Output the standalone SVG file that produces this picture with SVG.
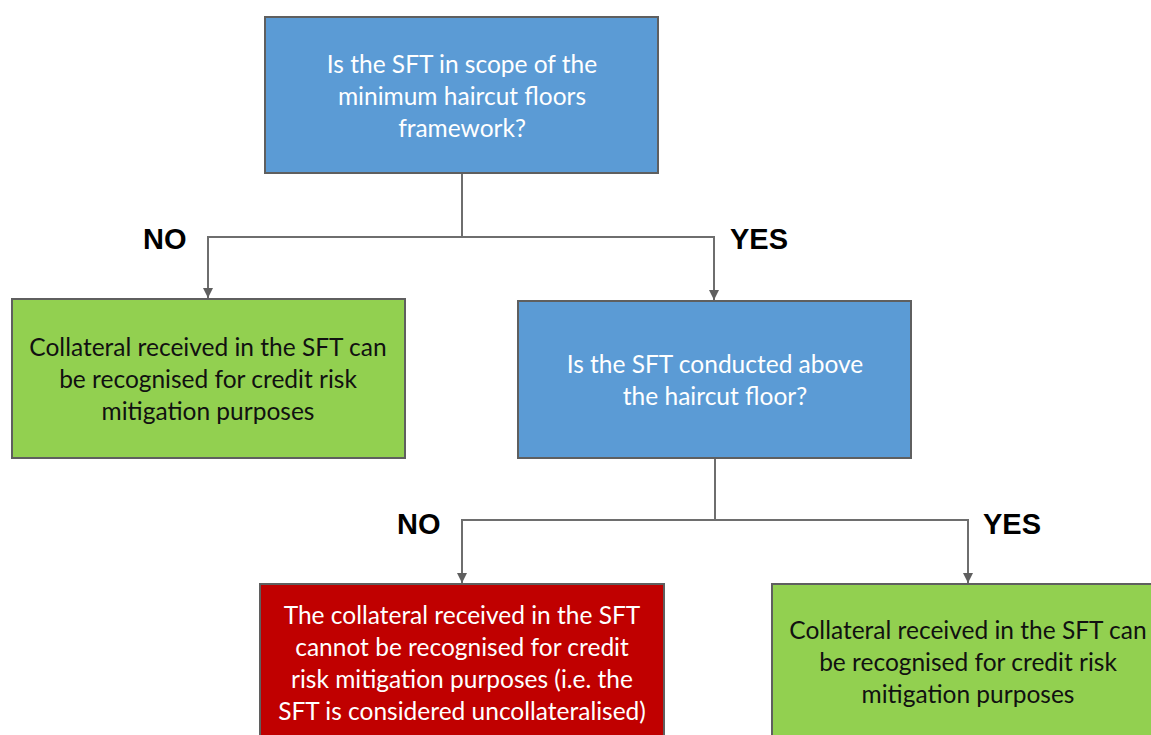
<svg xmlns="http://www.w3.org/2000/svg" width="1151" height="735" viewBox="0 0 1151 735">
<defs>
<style>
.box{stroke:#5f5f5f;stroke-width:2}
.blue{fill:#5b9bd5}
.green{fill:#92d050}
.red{fill:#c00000}
.t{font-family:Lato,"Liberation Sans",sans-serif;font-size:24.5px;text-anchor:middle}
.w{fill:#ffffff}
.k{fill:#111111}
.lbl{font-family:"Liberation Sans",Arial,sans-serif;font-weight:bold;font-size:29px;fill:#000000}
.c{fill:none;stroke:#6e6e6e;stroke-width:2}
</style>
<marker id="arr" viewBox="0 0 10 10" refX="10" refY="5" markerWidth="10" markerHeight="10" markerUnits="userSpaceOnUse" orient="auto">
<path d="M0,0 L10,5 L0,10 z" fill="#5f5f5f"/>
</marker>
</defs>
<rect width="1151" height="735" fill="#ffffff"/>
<g id="connectors">
<path class="c" d="M462,173 V237"/>
<path class="c" d="M462,237 H208 V298" marker-end="url(#arr)"/>
<path class="c" d="M462,237 H714 V300" marker-end="url(#arr)"/>
<path class="c" d="M715,458 V520"/>
<path class="c" d="M715,520 H462 V583" marker-end="url(#arr)"/>
<path class="c" d="M715,520 H968 V583" marker-end="url(#arr)"/>
</g>
<g id="q1">
<rect class="box blue" x="265" y="17" width="393" height="156"/>
<text class="t w" x="462" y="73">Is the SFT in scope of the</text>
<text class="t w" x="462" y="105">minimum haircut floors</text>
<text class="t w" x="462" y="137">framework?</text>
</g>
<g id="lbl-no1"><text class="lbl" x="143" y="249">NO</text></g>
<g id="lbl-yes1"><text class="lbl" x="730" y="249">YES</text></g>
<g id="a1">
<rect class="box green" x="12" y="299" width="393" height="159"/>
<text class="t k" x="208" y="356">Collateral received in the SFT can</text>
<text class="t k" x="208" y="388">be recognised for credit risk</text>
<text class="t k" x="208" y="420">mitigation purposes</text>
</g>
<g id="q2">
<rect class="box blue" x="518" y="301" width="393" height="157"/>
<text class="t w" x="715" y="373">Is the SFT conducted above</text>
<text class="t w" x="715" y="405">the haircut floor?</text>
</g>
<g id="lbl-no2"><text class="lbl" x="397" y="534">NO</text></g>
<g id="lbl-yes2"><text class="lbl" x="983" y="534">YES</text></g>
<g id="a2">
<rect class="box red" x="260" y="584" width="404" height="170"/>
<text class="t w" x="462" y="624">The collateral received in the SFT</text>
<text class="t w" x="462" y="656">cannot be recognised for credit</text>
<text class="t w" x="462" y="688">risk mitigation purposes (i.e. the</text>
<text class="t w" x="462" y="720">SFT is considered uncollateralised)</text>
</g>
<g id="a3">
<rect class="box green" x="772" y="584" width="394" height="170"/>
<text class="t k" x="968" y="639">Collateral received in the SFT can</text>
<text class="t k" x="968" y="671">be recognised for credit risk</text>
<text class="t k" x="968" y="703">mitigation purposes</text>
</g>
</svg>
